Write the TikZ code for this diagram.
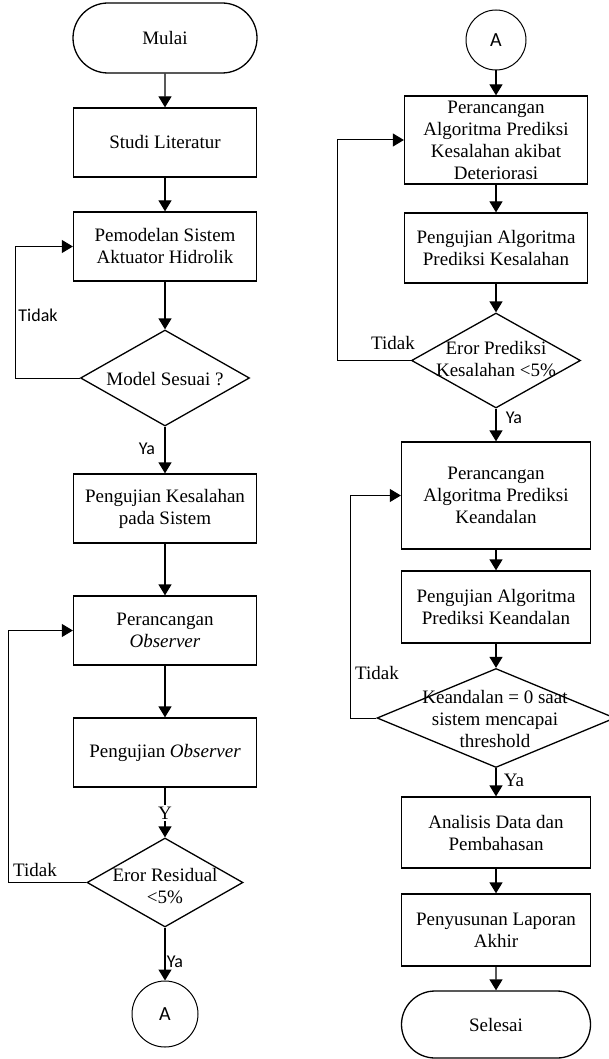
\documentclass[tikz,border=0pt]{standalone}
\usepackage{fontspec}
\setmainfont{Liberation Serif}
\newfontfamily\sansf{Carlito}
\usetikzlibrary{arrows.meta,shapes.geometric,shapes.misc}
\begin{document}
\begin{tikzpicture}[x=1pt,y=1pt,
 txtfont/.style={font=\fontsize{19}{22}\selectfont},
 box/.style={draw, line width=1.3pt, rectangle, align=center, inner sep=0pt, txtfont},
 term/.style={draw, line width=1.3pt, rounded rectangle, rounded rectangle arc length=180, inner sep=0pt, txtfont},
 dia/.style={draw, line width=1.3pt, diamond, inner sep=0pt},
 dtxt/.style={align=center, inner sep=0pt, txtfont},
 conn/.style={draw, line width=1pt, circle, inner sep=0pt, font=\sansf\fontsize{20}{24}\selectfont},
 arr/.style={-{Triangle[length=11pt,width=13pt]}, line width=1.3pt},
 fback/.style={-{Triangle[length=11pt,width=13pt]}, line width=1pt},
 slab/.style={font=\sansf\fontsize{18}{20}\selectfont, inner sep=0pt},
 rlab/.style={txtfont, inner sep=0pt},
]
\fill[white] (0,0) rectangle (609,-1059);
\useasboundingbox (0,0) rectangle (609,-1059);

% ---------- left column ----------
\node[term, minimum width=184pt, minimum height=70pt] (mulai) at (165,-38) {Mulai};
\node[box, minimum width=183pt, minimum height=69pt] (studi) at (165,-142.5) {Studi Literatur};
\node[box, minimum width=183pt, minimum height=69pt] (pemod) at (165,-246.5) {Pemodelan Sistem\\Aktuator Hidrolik};
\node[dia, minimum width=169pt, minimum height=96pt] (d1) at (165,-378) {};
\node[dtxt] at (165,-379) {Model Sesuai ?};
\node[box, minimum width=183pt, minimum height=69pt] (uji) at (165,-508.5) {Pengujian Kesalahan\\pada Sistem};
\node[box, minimum width=183pt, minimum height=69pt] (obs) at (165,-630.5) {Perancangan\\\textit{Observer}};
\node[box, minimum width=183pt, minimum height=69pt] (ujiobs) at (165,-752.5) {Pengujian \textit{Observer}};
\node[dia, minimum width=156pt, minimum height=89pt] (d2) at (165,-882.5) {};
\node[dtxt] at (165,-886) {Eror Residual\\<5\%};
\node[conn, minimum size=66pt] (a1) at (165,-1014) {A};

\draw[arr] (mulai) -- (studi);
\draw[arr] (studi) -- (pemod);
\draw[arr] (pemod) -- (d1.north);
\draw[arr] (d1.south) -- (uji);
\draw[arr] (uji) -- (obs);
\draw[arr] (obs) -- (ujiobs);
\draw[arr] (ujiobs) -- (d2.north);
\draw[arr] (d2.south) -- (a1);
\coordinate (l1) at (15,-378);
\coordinate (l2) at (8,-882.5);
\draw[fback] (d1.west) -- (l1) |- (pemod.west);
\draw[fback] (d2.west) -- (l2) |- (obs.west);

\node[slab] at (38,-315) {Tidak};
\node[slab] at (147,-449) {Ya};
\node[rlab, fill=white, inner sep=1.5pt] at (165,-813) {Y};
\node[rlab] at (35,-870) {Tidak};
\node[slab] at (175,-962) {Ya};

% ---------- right column ----------
\node[conn, minimum size=60pt] (a2) at (496,-40) {A};
\node[box, minimum width=183pt, minimum height=88pt] (r1) at (496,-140) {Perancangan\\Algoritma Prediksi\\Kesalahan akibat\\Deteriorasi};
\node[box, minimum width=183pt, minimum height=70pt] (r2) at (496,-248) {Pengujian Algoritma\\Prediksi Kesalahan};
\node[dia, minimum width=169pt, minimum height=95pt] (d3) at (496,-360.5) {};
\node[dtxt] at (496,-359) {Eror Prediksi\\Kesalahan <5\%};
\node[box, minimum width=189pt, minimum height=107pt] (r3) at (496,-495.5) {Perancangan\\Algoritma Prediksi\\Keandalan};
\node[box, minimum width=189pt, minimum height=72pt] (r4) at (496,-607) {Pengujian Algoritma\\Prediksi Keandalan};
\node[dia, minimum width=238pt, minimum height=99pt] (d4) at (496,-718) {};
\node[dtxt] at (495,-719) {Keandalan = 0 saat\\sistem mencapai\\threshold};
\node[box, minimum width=189pt, minimum height=71pt] (r5) at (496,-832.5) {Analisis Data dan\\Pembahasan};
\node[box, minimum width=189pt, minimum height=72pt] (r6) at (496,-930) {Penyusunan Laporan\\Akhir};
\node[term, minimum width=189pt, minimum height=67pt] (selesai) at (496,-1024.5) {Selesai};

\draw[arr] (a2) -- (r1);
\draw[arr] (r1) -- (r2);
\draw[arr] (r2) -- (d3.north);
\draw[arr] (d3.south) -- (r3);
\draw[arr] (r3) -- (r4);
\draw[arr] (r4) -- (d4.north);
\draw[arr] (d4.south) -- (r5);
\draw[arr] (r5) -- (r6);
\draw[arr] (r6) -- (selesai);
\coordinate (l3) at (337,-360.5);
\coordinate (l4) at (350,-718);
\draw[fback] (d3.west) -- (l3) |- (r1.west);
\draw[fback] (d4.west) -- (l4) |- (r3.west);

\node[rlab] at (393,-343) {Tidak};
\node[slab] at (514,-418) {Ya};
\node[rlab] at (377,-673) {Tidak};
\node[rlab] at (514,-780) {Ya};
\end{tikzpicture}
\end{document}
